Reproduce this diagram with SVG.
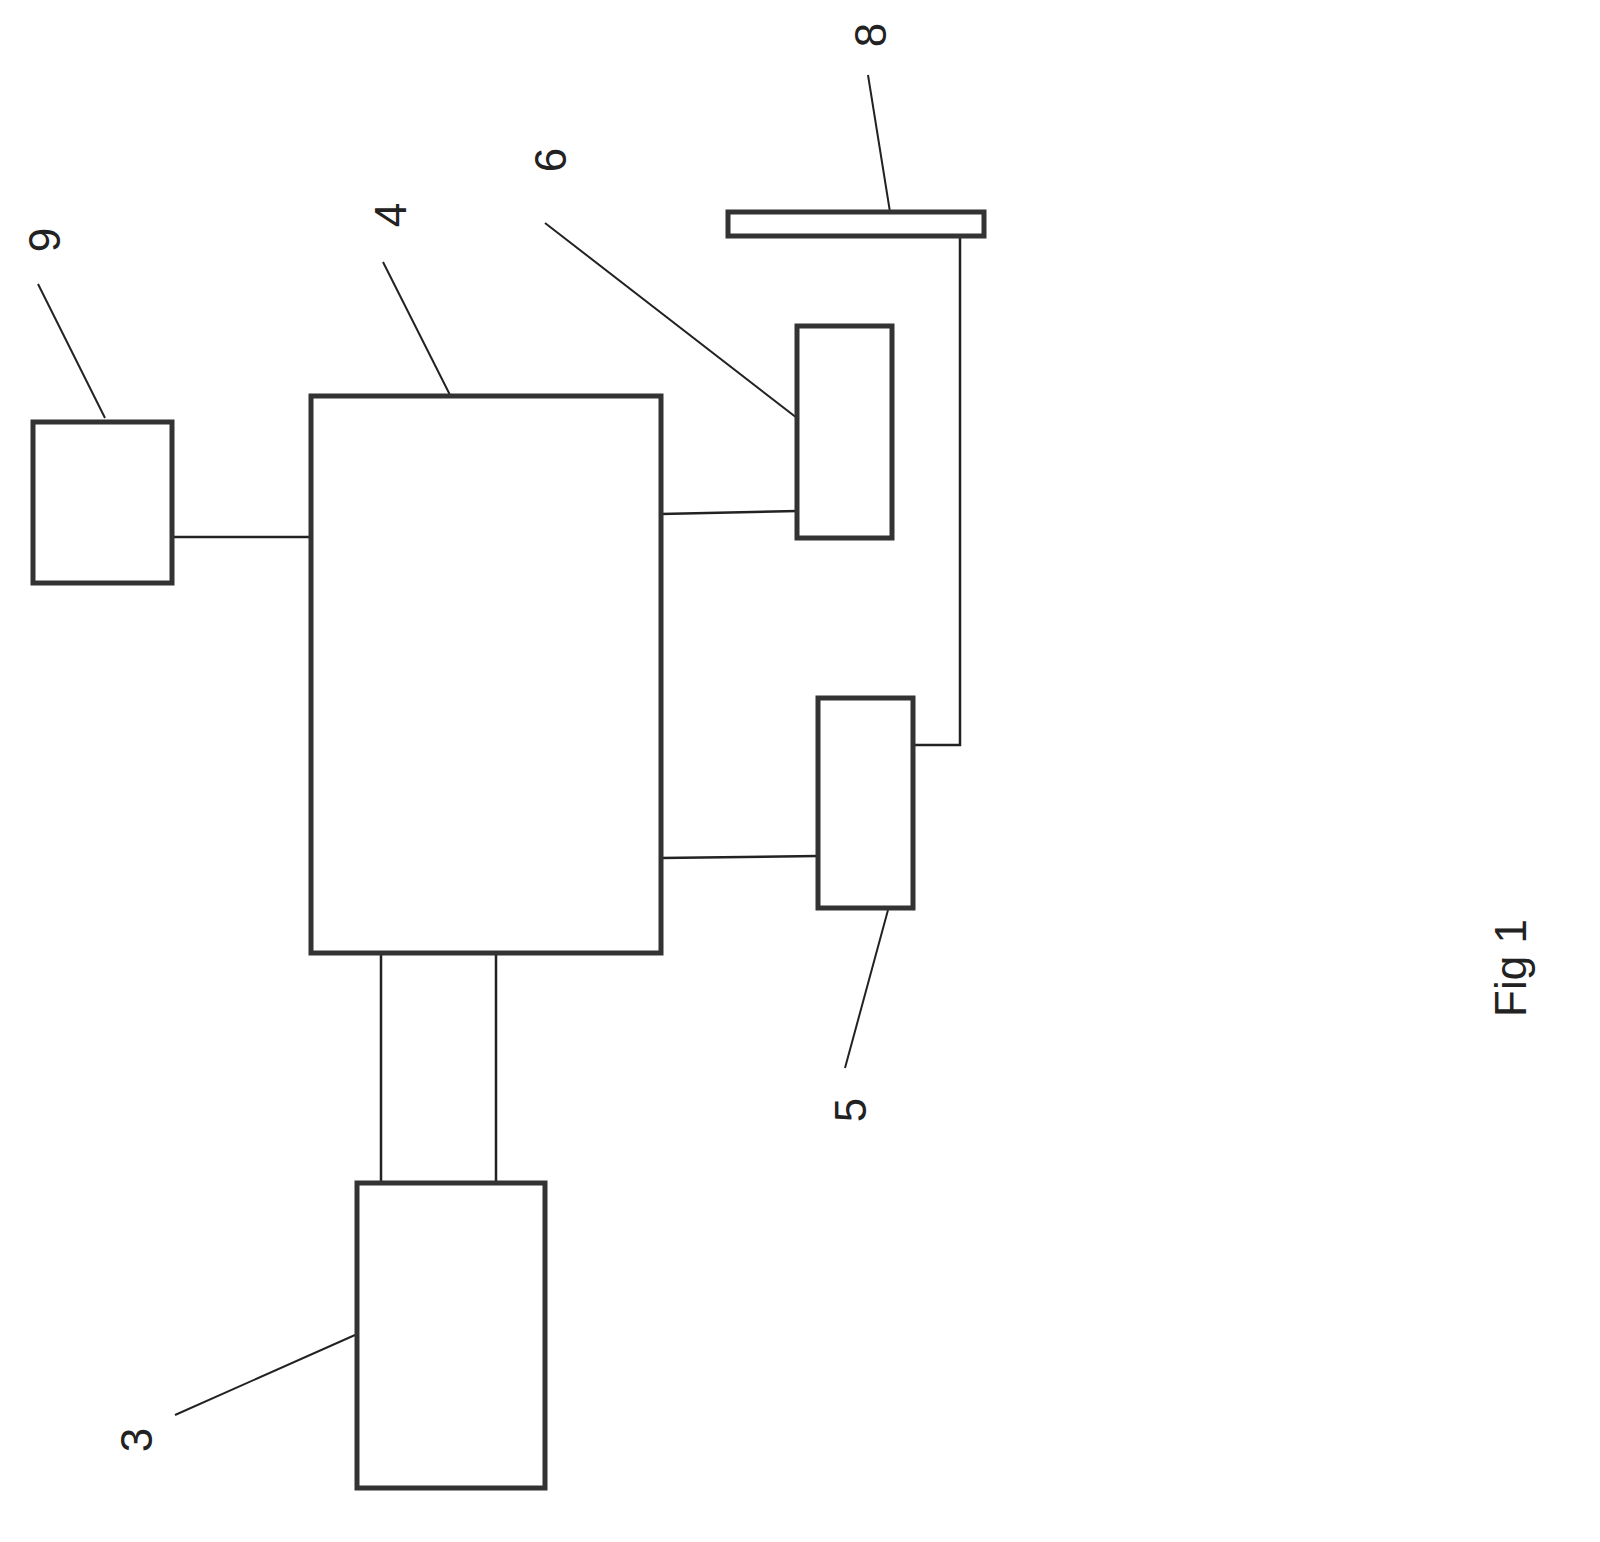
<svg xmlns="http://www.w3.org/2000/svg" width="1600" height="1542" viewBox="0 0 1600 1542">
<style>
.b{fill:#fff;stroke:#333;stroke-width:5}
.c{stroke:#222;stroke-width:2.5;fill:none}
.l{stroke:#222;stroke-width:2;fill:none}
text{font-family:"Liberation Sans",Arial,sans-serif;font-size:44px;fill:#222;text-anchor:middle}
</style>
<rect width="1600" height="1542" fill="#fff"/>
<g id="connectors">
<path class="c" d="M172 537H311M661 514L797 511M661 858L818 856M381 953V1183M496 953V1183M960 237V745H914"/>
</g>
<g id="leaders">
<path class="l" d="M38 284L105 418M383 262L450 395M545 223L797 418M868 75L890 212M888 910L845 1068M175 1415L355 1335"/>
</g>
<g id="n9"><rect class="b" x="33" y="422" width="139" height="161"/><text transform="translate(60,240) rotate(-90)">9</text></g>
<g id="n4"><rect class="b" x="311" y="396" width="350" height="557"/><text transform="translate(406,215) rotate(-90)">4</text></g>
<g id="n6"><rect class="b" x="797" y="326" width="95" height="212"/><text transform="translate(566,160) rotate(-90)">6</text></g>
<g id="n8"><rect class="b" x="728" y="212" width="256" height="24"/><text transform="translate(886,35) rotate(-90)">8</text></g>
<g id="n5"><rect class="b" x="818" y="698" width="95" height="210"/><text transform="translate(866,1110) rotate(-90)">5</text></g>
<g id="n3"><rect class="b" x="357" y="1183" width="188" height="305"/><text transform="translate(152,1440) rotate(-90)">3</text></g>
<text transform="translate(1526,968) rotate(-90)">Fig 1</text>
</svg>
